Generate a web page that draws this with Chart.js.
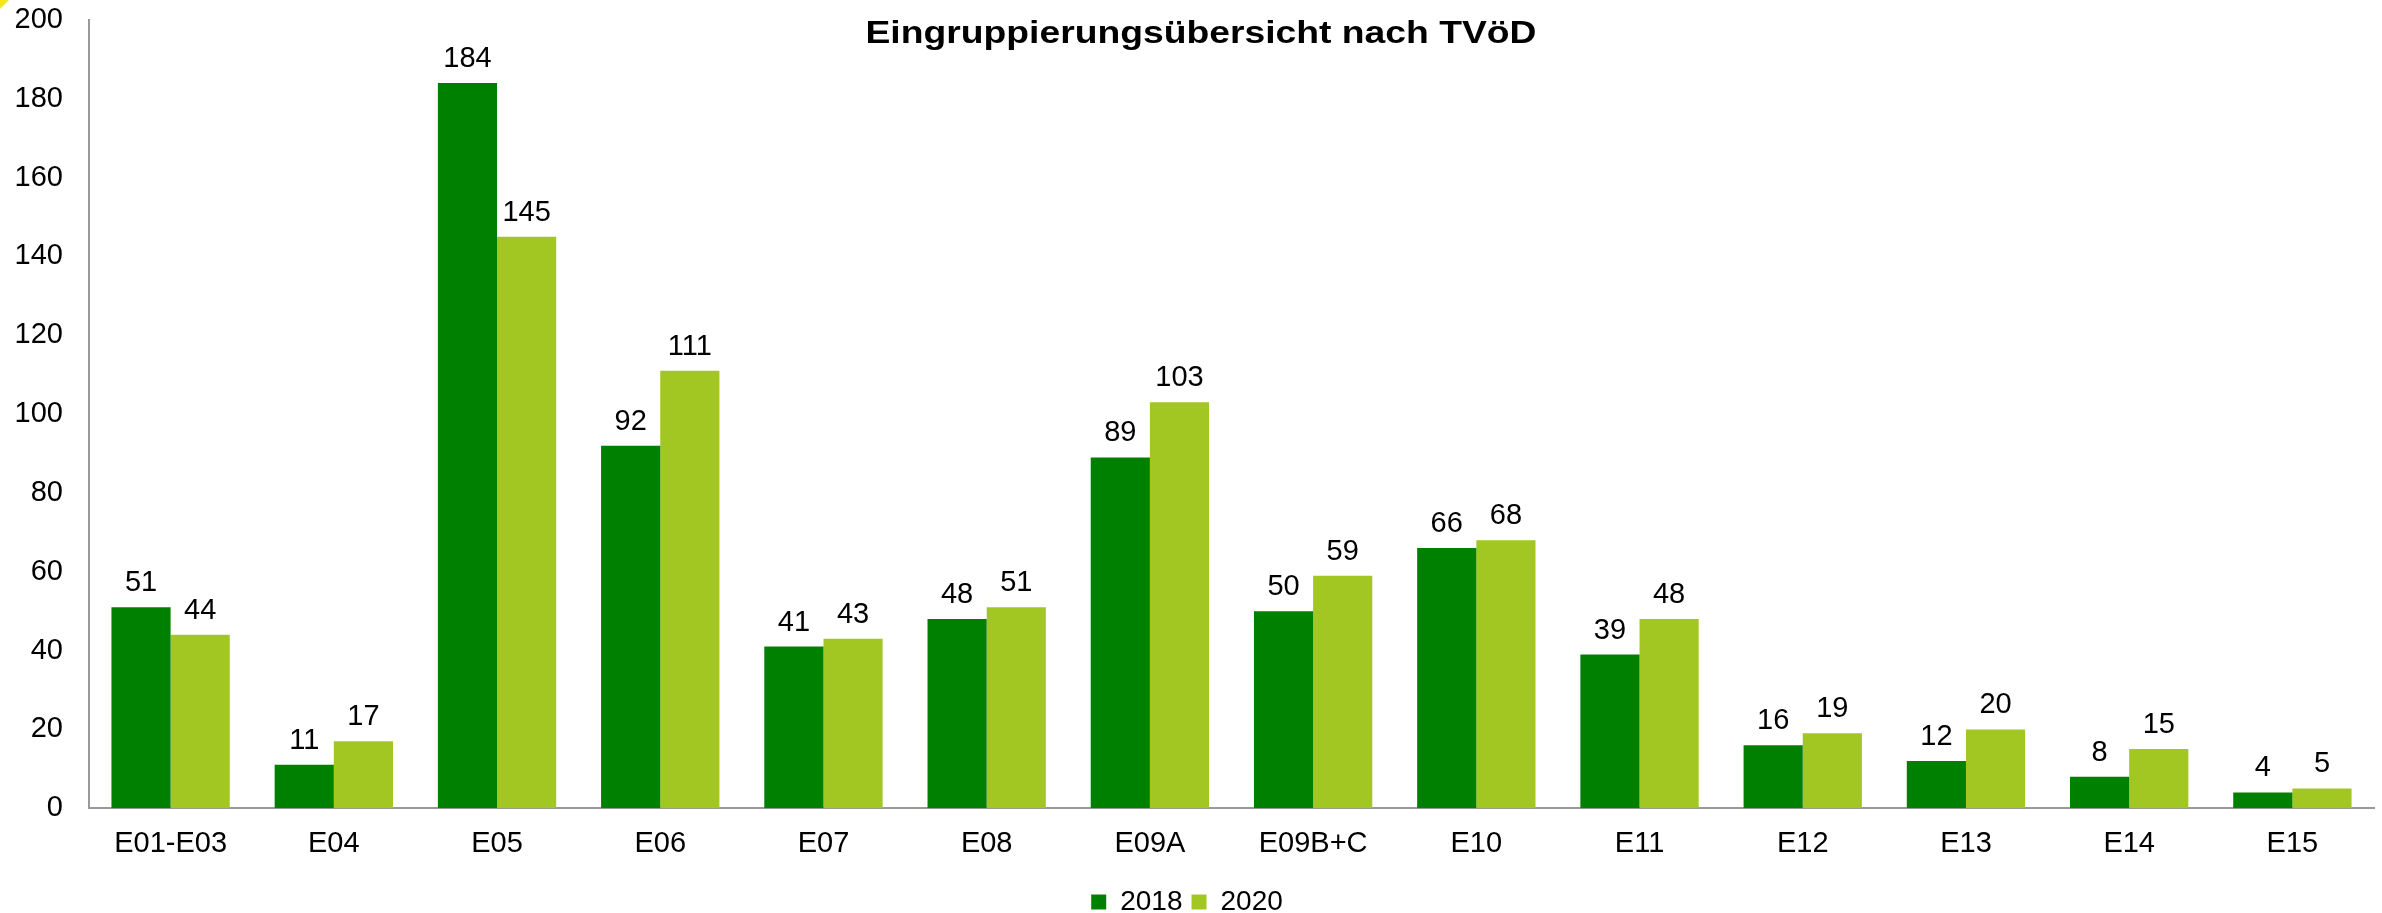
<!DOCTYPE html>
<html>
<head>
<meta charset="utf-8">
<script src="https://cdn.jsdelivr.net/npm/chart.js@4.4.0/dist/chart.umd.min.js"></script>
<style>
  html, body { margin: 0; padding: 0; background: #fff; }
  #wrap { position: relative; width: 2382px; height: 913px; }
  #corner { position: absolute; left: 0; top: 0; width: 0; height: 0;
    border-top: 9px solid #f5e61a; border-right: 9px solid transparent; }
</style>
</head>
<body>
<div id="wrap">
  <canvas id="chart" width="2382" height="913"></canvas>
  <div id="corner"></div>
</div>
<script>
// === Daten ===
const categories = ["E01-E03", "E04", "E05", "E06", "E07", "E08", "E09A", "E09B+C", "E10", "E11", "E12", "E13", "E14", "E15"];
const values2018 = [51, 11, 184, 92, 41, 48, 89, 50, 66, 39, 16, 12, 8, 4];
const values2020 = [44, 17, 145, 111, 43, 51, 103, 59, 68, 48, 19, 20, 15, 5];
const yTicks = [0, 20, 40, 60, 80, 100, 120, 140, 160, 180, 200];
const chartTitle = "Eingruppierungsübersicht nach TVöD";

const fontFamily = "'Liberation Sans', Arial, sans-serif";

// Werte über den Balken
const valueLabels = {
  id: "valueLabels",
  afterDatasetsDraw(chart) {
    const ctx = chart.ctx;
    ctx.save();
    ctx.fillStyle = "#000";
    ctx.font = "29px " + fontFamily;
    ctx.textAlign = "center";
    ctx.textBaseline = "alphabetic";
    chart.data.datasets.forEach((ds, i) => {
      chart.getDatasetMeta(i).data.forEach((bar, j) => {
        ctx.fillText(ds.data[j], bar.x, bar.y - 16);
      });
    });
    ctx.restore();
  }
};

// Titel liegt im Diagrammbereich (etwas breiter gezogen wie im Original)
const overlayTitle = {
  id: "overlayTitle",
  afterDraw(chart) {
    const ctx = chart.ctx;
    ctx.save();
    ctx.fillStyle = "#000";
    ctx.font = "bold 32px " + fontFamily;
    ctx.textAlign = "center";
    ctx.textBaseline = "alphabetic";
    const w = ctx.measureText(chartTitle).width;
    const sx = 671 / w;
    ctx.translate(1201, 43);
    ctx.scale(sx, 1);
    ctx.fillText(chartTitle, 0, 0);
    ctx.restore();
  }
};

new Chart(document.getElementById("chart"), {
  type: "bar",
  data: {
    labels: categories,
    datasets: [
      { label: "2018", data: values2018, backgroundColor: "#008000", borderWidth: 0 },
      { label: "2020", data: values2020, backgroundColor: "#a2c722", borderWidth: 0 }
    ]
  },
  options: {
    responsive: false,
    animation: false,
    categoryPercentage: 0.725,
    barPercentage: 1.0,
    layout: { padding: { top: 0, right: 8, left: 0, bottom: -13 } },
    scales: {
      x: {
        grid: { display: false, drawTicks: false },
        border: { color: "#999", width: 2 },
        ticks: { color: "#000", font: { size: 29, family: fontFamily }, padding: 18, maxRotation: 0 }
      },
      y: {
        min: 0,
        max: 200,
        afterFit: (scale) => {
          scale.width = 89;
          scale.paddingTop = 20;
          scale.paddingBottom = 0;
        },
        afterBuildTicks: (scale) => { scale.ticks = yTicks.map(v => ({ value: v })); },
        grid: { display: false, drawTicks: false },
        border: { color: "#999", width: 2 },
        ticks: { color: "#000", font: { size: 29, family: fontFamily }, padding: 26 }
      }
    },
    plugins: {
      legend: {
        position: "bottom",
        labels: {
          color: "#000",
          font: { size: 28, family: fontFamily },
          boxWidth: 15,
          boxHeight: 15,
          padding: 9
        }
      },
      title: { display: false },
      tooltip: { enabled: false }
    }
  },
  plugins: [valueLabels, overlayTitle]
});
</script>
</body>
</html>
